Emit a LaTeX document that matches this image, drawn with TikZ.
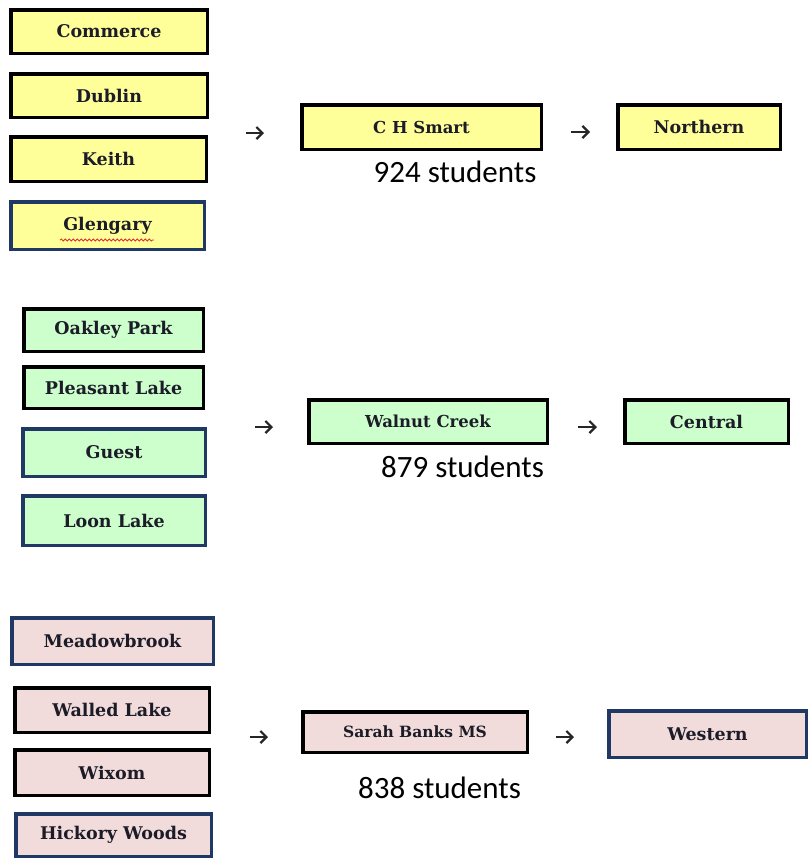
\documentclass[tikz,border=0pt]{standalone}
\usepackage{fontspec}
\setmainfont{DejaVu Serif}
\newfontfamily\countfont{Carlito}
\usetikzlibrary{arrows.meta,decorations.pathmorphing}
\definecolor{yel}{HTML}{FFFF99}
\definecolor{grn}{HTML}{CCFFCC}
\definecolor{pnk}{HTML}{F2DCDB}
\definecolor{navy}{HTML}{1F3864}
\definecolor{ink}{HTML}{1C1C28}
\definecolor{squig}{HTML}{E03030}
\tikzset{
  school/.style={draw, line width=3.5pt, inner sep=0pt,
    font=\fontsize{17.5}{19}\selectfont\bfseries, text=ink},
  blk/.style={school, draw=black},
  nvy/.style={school, draw=navy},
  count/.style={font=\countfont\fontsize{31}{34}\selectfont, anchor=base, inner sep=0pt},
  flow/.style={line width=2.2pt, draw=black!85,
    -{Straight Barb[length=6pt,width=12pt,line width=2.2pt]}},
}
\newcommand\schoolbox[7]{%
  \node[#6, minimum width={(#4-#2-3.5)*1pt}, minimum height={(#5-#3-3.5)*1pt}]
    (#1) at ({(#2+#4)/2},{(#3+#5)/2}) {#7};}
\begin{document}
\begin{tikzpicture}[x=1pt,y=-1pt]
\useasboundingbox[fill=white] (0,0) rectangle (809,860);
% row 1
\schoolbox{commerce}{9}{8}{209}{55}{blk,fill=yel}{Commerce}
\schoolbox{dublin}{9}{72}{209}{119}{blk,fill=yel}{Dublin}
\schoolbox{keith}{9}{135}{208}{183}{blk,fill=yel}{Keith}
\schoolbox{glengary}{9}{200}{206}{251}{nvy,fill=yel}{Glengary}
\schoolbox{chsmart}{300}{103}{543}{151}{blk,fill=yel,font=\fontsize{16.5}{18}\selectfont\bfseries}{C H Smart}
\schoolbox{northern}{616}{103}{782}{151}{blk,fill=yel}{Northern}
\node[count] (c1) at (455,182) {924 students};
\coordinate (a1s) at (246,133); \coordinate (a1e) at (264,133);
\coordinate (a2s) at (571,132); \coordinate (a2e) at (590,132);
\draw[flow] (a1s) -- (a1e);
\draw[flow] (a2s) -- (a2e);
\coordinate (sq1) at (60,240); \coordinate (sq2) at (154,240);
\draw[squig, line width=0.8pt, decorate,
  decoration={snake, segment length=4pt, amplitude=1pt}] (sq1) -- (sq2);
% row 2
\schoolbox{oakley}{22}{307}{205}{353}{blk,fill=grn}{Oakley Park}
\schoolbox{pleasant}{22}{365}{205}{410}{blk,fill=grn}{Pleasant Lake}
\schoolbox{guest}{21}{427}{207}{478}{nvy,fill=grn}{Guest}
\schoolbox{loon}{21}{494}{207}{547}{nvy,fill=grn}{Loon Lake}
\schoolbox{walnut}{307}{398}{549}{445}{blk,fill=grn,font=\fontsize{16.5}{18}\selectfont\bfseries}{Walnut Creek}
\schoolbox{central}{623}{398}{790}{445}{blk,fill=grn}{Central}
\node[count] (c2) at (462.5,477) {879 students};
\coordinate (b1s) at (255,427); \coordinate (b1e) at (273,427);
\coordinate (b2s) at (578,427); \coordinate (b2e) at (597,427);
\draw[flow] (b1s) -- (b1e);
\draw[flow] (b2s) -- (b2e);
% row 3
\schoolbox{meadow}{10}{616}{215}{666}{nvy,fill=pnk}{Meadowbrook}
\schoolbox{walled}{13}{686}{211}{734}{blk,fill=pnk}{Walled Lake}
\schoolbox{wixom}{13}{748}{211}{797}{blk,fill=pnk}{Wixom}
\schoolbox{hickory}{14}{812}{213}{858}{nvy,fill=pnk}{Hickory Woods}
\schoolbox{sarah}{301}{710}{529}{754}{blk,fill=pnk,font=\fontsize{15.5}{17}\selectfont\bfseries}{Sarah Banks MS}
\schoolbox{western}{607}{709}{808}{759}{nvy,fill=pnk}{Western}
\node[count] (c3) at (439.5,798) {838 students};
\coordinate (d1s) at (250,737); \coordinate (d1e) at (268,737);
\coordinate (d2s) at (556,737); \coordinate (d2e) at (574,737);
\draw[flow] (d1s) -- (d1e);
\draw[flow] (d2s) -- (d2e);
\end{tikzpicture}
\end{document}
